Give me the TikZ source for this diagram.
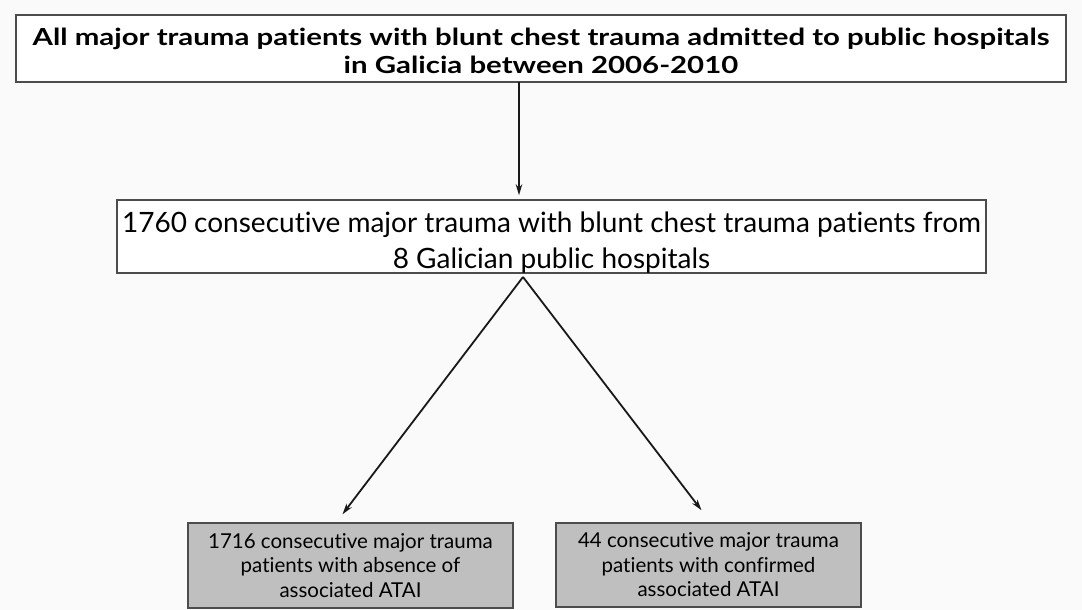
\documentclass[tikz,border=0pt]{standalone}
\usepackage{fontspec}
\setmainfont{Lato}[Ligatures=NoCommon]
\newfontfamily\headfont{Lato}[Ligatures=NoCommon, FakeStretch=1.25]
\usetikzlibrary{positioning,arrows.meta}

\begin{document}
\begin{tikzpicture}[x=1pt, y=-1pt,
  flowbox/.style={rectangle, draw=black!70, line width=1.5pt, inner sep=0pt, fill=white},
  resultbox/.style={flowbox, fill=black!25},
  boxtext/.style={align=center, inner sep=0pt},
  flowline/.style={line width=1.8pt, black!90},
  flowarrow/.style={flowline, -{Stealth[length=11pt, width=6.5pt]}}]
\useasboundingbox[fill=black!2] (0,0) rectangle (1082,610);

\node[flowbox, minimum width=1050pt, minimum height=67pt,
  label={[name=cohorttext, boxtext, yshift=-2pt, font=\headfont\bfseries\fontsize{23.5}{28}\selectfont]center:{All major trauma patients with blunt chest trauma admitted to public hospitals\\ in Galicia between 2006-2010}}] (cohort) at (541, 48.5) {};
\node[flowbox, minimum width=869pt, minimum height=73pt,
  label={[name=patientstext, boxtext, yshift=-6pt, font=\fontsize{28}{36}\selectfont]center:{1760 consecutive major trauma with blunt chest trauma patients from\\ 8 Galician public hospitals}}] (patients) at (551.5, 236.5) {};
\node[resultbox, minimum width=325pt, minimum height=85pt,
  label={[name=noataitext, boxtext, font=\fontsize{20.5}{24.5}\selectfont]center:{1716 consecutive major trauma\\ patients with absence of\\ associated ATAI}}] (noatai) at (350.5, 565.5) {};
\node[resultbox, minimum width=305pt, minimum height=84pt,
  label={[name=ataitext, boxtext, font=\fontsize{20.5}{24.5}\selectfont]center:{44 consecutive major trauma\\ patients with confirmed\\ associated ATAI}}] (atai) at (708.5, 565) {};

% connectors
\coordinate (topout) at (519, 82);
\coordinate (split) at (523, 277);
\draw[flowarrow] (topout) -- ([yshift=4pt]topout |- patients.north);
\draw[flowarrow] (split) -- ([xshift=-8pt, yshift=8pt]noatai.north);
\draw[flowarrow] (split) -- ([xshift=-7pt, yshift=12pt]atai.north);
\end{tikzpicture}
\end{document}
